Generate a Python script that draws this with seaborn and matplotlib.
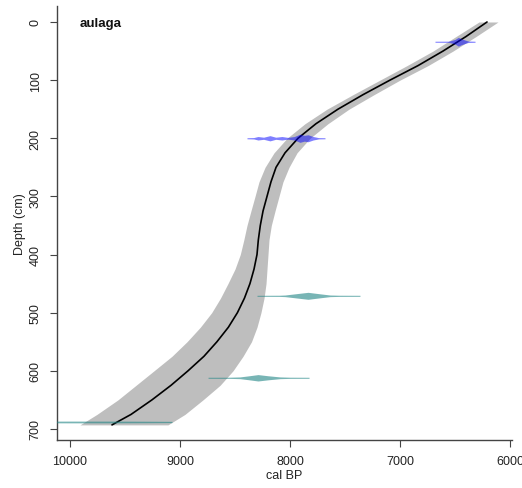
import numpy as np
import pandas as pd
import matplotlib
matplotlib.use("Agg")
import matplotlib.pyplot as plt
import seaborn as sns

# ---- age-depth model ----
model_depth = [0, 25, 50, 75, 100, 125, 150, 175, 200, 225, 250, 275, 300, 325,
               350, 375, 400, 425, 450, 475, 500, 525, 550, 575, 600, 625, 650,
               675, 693]
model_median = [6209, 6400, 6609, 6836, 7091, 7336, 7564, 7764, 7927, 8045, 8127,
                8173, 8209, 8245, 8270, 8288, 8300, 8327, 8364, 8414, 8478, 8560,
                8664, 8782, 8927, 9082, 9255, 9445, 9618]
model_old = [6282, 6491, 6700, 6936, 7182, 7427, 7664, 7864, 8027, 8145, 8227,
             8282, 8318, 8355, 8391, 8420, 8452, 8500, 8564, 8632, 8712, 8815,
             8936, 9073, 9236, 9400, 9564, 9755, 9909]
model_young = [6109, 6309, 6518, 6745, 7000, 7236, 7464, 7655, 7818, 7936, 8009,
               8064, 8100, 8136, 8170, 8191, 8200, 8209, 8218, 8236, 8264, 8300,
               8350, 8427, 8518, 8636, 8791, 8955, 9109]

# ---- calibrated dates: depth, ages, half-height of density (cm) ----
date_depths = [34, 200, 471, 612, 688]
date_colors = ["blue", "blue", "teal", "teal", "teal"]
date1_ages = [6682, 6560, 6540, 6500, 6470, 6440, 6410, 6380, 6318]
date1_dens = [0.9, 1.0, 1.8, 4.0, 7.5, 5.0, 3.0, 1.2, 0.9]
date2_ages = [8391, 8330, 8291, 8240, 8182, 8130, 8073, 8020, 7960, 7910, 7870,
              7836, 7790, 7740, 7682]
date2_dens = [0.9, 1.2, 3.0, 1.8, 4.5, 1.8, 3.0, 1.5, 3.0, 7.0, 5.0, 6.0, 3.0,
              1.1, 0.9]
date3_ages = [8300, 8100, 8045, 7950, 7836, 7730, 7636, 7550, 7364]
date3_dens = [0.9, 1.0, 1.4, 3.5, 6.0, 3.5, 1.4, 1.0, 0.9]
date4_ages = [8745, 8550, 8455, 8370, 8291, 8200, 8091, 8000, 7827]
date4_dens = [0.9, 1.0, 1.5, 3.5, 5.5, 3.5, 1.5, 1.0, 0.9]
date5_ages = [10400, 10000, 9600, 9300, 9073]
date5_dens = [1.4, 1.5, 1.5, 1.3, 1.1]

date_ages = [date1_ages, date2_ages, date3_ages, date4_ages, date5_ages]
date_dens = [date1_dens, date2_dens, date3_dens, date4_dens, date5_dens]

xticks = [10000, 9000, 8000, 7000, 6000]
yticks = [0, 100, 200, 300, 400, 500, 600, 700]

sns.set_style("ticks")
plt.rcParams["font.family"] = ["Liberation Sans", "DejaVu Sans"]

fig = plt.figure(figsize=(5.22, 4.89), dpi=100)
ax = fig.add_axes([57 / 522, 1 - 441 / 489, (512 - 57) / 522, (441 - 7) / 489])

# band
ax.fill_betweenx(model_depth, model_old, model_young, color="#bebebe", lw=0, zorder=1)

# median line
df = pd.DataFrame({"age": model_median, "depth": model_depth})
sns.lineplot(data=df, x="age", y="depth", orient="y", estimator=None,
             color="black", linewidth=1.2, ax=ax, zorder=2)

# dates
cols = {"blue": ("#0000ff", 0.5), "teal": ("#1f8585", 0.6)}
for d, c, a, h in zip(date_depths, date_colors, date_ages, date_dens):
    a = np.array(a, float)
    h = np.array(h, float)
    col, al = cols[c]
    ax.fill_between(a, d - h, d + h, color=col, alpha=al, lw=0, zorder=3)

ax.set_xlim(10118, 5982)
ax.set_ylim(719, -27.5)
ax.set_xticks(xticks)
ax.set_xticklabels([str(t) for t in xticks])
ax.set_yticks(yticks)
ax.set_yticklabels([str(t) for t in yticks], rotation=90, va="center")

for s in ["top", "right"]:
    ax.spines[s].set_visible(False)
for s in ["left", "bottom"]:
    ax.spines[s].set_color("#444444")
    ax.spines[s].set_linewidth(1.0)
ax.tick_params(axis="both", direction="out", length=5, width=0.8,
               color="#444444", labelsize=9, labelcolor="#222222", pad=6)

ax.set_xlabel("cal BP", fontsize=9, color="#222222", labelpad=1)
ax.set_ylabel("Depth (cm)", fontsize=9, color="#222222", labelpad=3)
ax.text(0.05, 0.961, "aulaga", transform=ax.transAxes, fontsize=9.5,
        fontweight="bold", va="center", ha="left", color="#111111")

fig.savefig("out.png", dpi=100)
